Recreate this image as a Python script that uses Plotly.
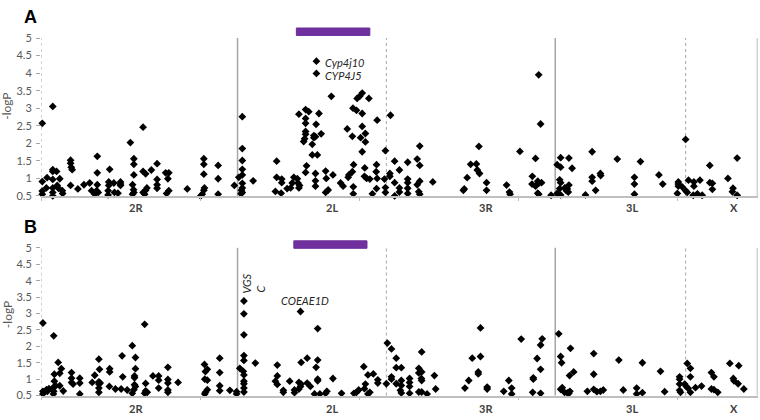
import plotly.graph_objects as go

# ---------------- data (position in Mb along the genome, -logP) ----------------
arm_names = ["2R", "2L", "3R", "3L", "X"]
arm_label_mb = [30.0, 91.4, 139.8, 185.7, 217.8]
solid_bounds_mb = [61.8, 161.7, 225.3]
dashed_bounds_mb = [0.0, 108.6, 202.7]
x_ticks_mb = [0, 50, 100, 150, 200]
y_ticks = [0.5, 1, 1.5, 2, 2.5, 3, 3.5, 4, 4.5, 5]
y_ticktext = ["0.5", "1", "1.5", "2", "2.5", "3", "3.5", "4", "4.5", "5"]
inv_2La_a = [80.3, 103.4]
inv_2La_b = [79.5, 102.5]

a_2R = [
    (0.4, 2.57), (3.7, 3.05), (0.4, 0.91), (0.4, 0.64), (0.4, 0.55), (1.9, 1.02), (1.7, 0.73),
    (3.7, 1.25), (3.7, 1.2), (4.9, 1.2), (3.7, 0.97), (3.7, 0.73), (3.7, 0.6), (3.7, 0.5),
    (5.9, 0.99), (5.1, 0.8), (5.5, 0.72), (6.7, 0.65), (6.8, 0.57),
    (9.3, 1.52), (9.3, 1.43), (9.5, 1.32), (9.8, 1.25), (9.3, 0.8),
    (11.6, 0.7), (13.5, 0.82), (15.3, 0.87), (15.9, 0.65),
    (17.7, 1.63), (17.7, 1.16), (17.7, 0.82), (17.5, 0.65), (18.0, 0.6), (16.9, 0.55),
    (21.6, 1.26), (21.3, 0.9), (21.3, 0.8), (21.1, 0.65), (21.1, 0.53), (22.9, 0.87), (23.1, 0.6), (24.2, 0.58),
    (25.0, 0.9), (25.0, 0.84), (25.0, 0.8),
    (28.1, 2.02), (29.2, 1.56), (29.2, 1.4), (29.2, 1.1), (28.8, 0.82), (29.1, 0.68), (28.8, 0.55), (29.2, 0.6),
    (32.1, 2.46), (32.1, 1.2), (32.9, 1.13), (33.3, 0.73), (32.9, 0.66), (32.1, 0.6), (32.6, 0.55),
    (34.7, 1.24), (36.5, 1.42), (36.5, 0.97), (36.5, 0.82), (36.5, 0.72),
    (39.2, 1.16), (40.2, 1.16), (39.9, 0.99), (40.2, 0.65), (39.5, 0.57),
    (46.0, 0.7),
    (51.2, 1.56), (51.2, 1.4), (51.2, 1.12), (51.4, 0.73), (51.2, 0.66), (50.7, 0.55), (50.2, 0.5),
    (55.7, 1.37), (55.7, 0.99), (55.7, 0.55),
    (60.8, 0.8),
]
a_2L = [
    (63.3, 2.76), (63.3, 1.85), (63.3, 1.51), (63.3, 1.26), (63.3, 1.1), (62.2, 1.03), (63.3, 0.86),
    (63.3, 0.73), (63.0, 0.66), (62.9, 0.56), (63.3, 0.6),
    (66.7, 0.93),
    (74.1, 1.49), (74.1, 1.03), (73.7, 0.63), (75.5, 0.58),
    (75.7, 0.98), (75.7, 0.88), (77.4, 0.71), (78.5, 0.73), (79.0, 0.87), (79.5, 1.03), (80.6, 0.99),
    (80.8, 0.87), (81.3, 0.8), (81.1, 0.73),
    (81.1, 2.83), (83.2, 2.96), (84.2, 2.9), (87.4, 2.85), (83.2, 2.71), (83.2, 2.57), (86.5, 2.54),
    (83.2, 2.34), (83.2, 2.26), (82.9, 2.13), (82.6, 2.05), (85.8, 2.22), (85.8, 2.16), (86.3, 2.19),
    (88.1, 2.27), (85.3, 1.97), (85.3, 1.67), (86.9, 1.67),
    (91.3, 3.34), (86.6, 4.34), (86.6, 3.99),
    (96.3, 2.41), (97.9, 2.2), (101.0, 2.48), (102.0, 2.28), (100.5, 2.16), (102.0, 2.04), (101.0, 1.76),
    (101.0, 3.43), (100.2, 3.34), (99.4, 3.28), (103.1, 3.28), (98.1, 3.0), (99.2, 2.94), (101.0, 2.85),
    (105.7, 2.66),
    (83.5, 1.36), (83.2, 1.17), (89.5, 1.21), (89.7, 1.0), (91.8, 1.1), (86.3, 1.14), (86.3, 0.93), (86.3, 0.78),
    (98.3, 1.39), (97.9, 1.19), (96.8, 1.1), (96.6, 1.03), (101.8, 1.3), (101.7, 1.06), (102.4, 1.0),
    (103.4, 0.98), (105.5, 1.39), (105.4, 1.19), (105.7, 1.0),
    (90.3, 0.67), (89.5, 0.6), (94.2, 0.87), (95.0, 0.78), (98.2, 0.76), (98.2, 0.56), (104.2, 0.56),
    (105.5, 0.71),
]
a_3R = [
    (108.0, 0.98), (108.3, 0.74), (108.3, 1.79), (109.9, 2.8), (109.7, 1.14), (109.7, 1.06), (108.3, 0.6),
    (111.2, 1.49), (111.2, 0.88), (111.2, 0.5), (112.7, 1.24), (112.7, 0.73), (112.7, 0.61),
    (115.3, 1.46), (115.3, 0.98), (115.3, 0.88), (115.3, 0.72), (115.3, 0.57),
    (118.3, 1.55), (119.1, 1.92), (119.1, 1.37), (119.1, 0.92), (118.3, 0.82), (118.8, 0.62), (119.1, 0.55),
    (123.2, 0.9),
    (132.8, 0.66), (133.1, 0.7), (134.0, 1.02), (135.1, 1.4), (136.9, 1.41), (137.7, 1.91), (137.2, 1.24),
    (137.9, 1.14), (140.1, 0.88), (140.1, 0.66), (146.4, 0.81), (147.3, 0.61), (147.5, 0.55),
    (150.6, 1.77), (155.5, 1.57), (156.5, 3.95), (157.1, 2.55), (154.5, 1.06), (154.4, 0.84),
    (155.5, 0.78), (156.2, 0.92), (156.5, 0.86), (156.2, 0.58), (157.4, 0.88), (156.5, 0.55),
    (160.4, 0.52),
]
a_3L = [
    (162.3, 1.39), (163.4, 1.59), (163.4, 1.32), (163.1, 0.96), (163.4, 0.88), (163.1, 0.71), (162.3, 0.57),
    (163.4, 0.53), (164.7, 0.73), (165.2, 0.65), (166.0, 1.58), (166.0, 0.81), (165.8, 0.61), (167.0, 1.29),
    (165.5, 0.7), (171.2, 0.53), (173.3, 1.76), (173.3, 1.03), (173.3, 0.92), (174.4, 0.66), (175.9, 1.14),
    (176.0, 1.08), (181.2, 1.55), (186.6, 1.03), (186.6, 0.84), (186.6, 0.55), (188.5, 1.48),
    (194.3, 1.1), (195.5, 0.84), (200.4, 0.9), (200.4, 0.84), (200.4, 0.78), (200.1, 0.57), (201.6, 0.76),
]
a_X = [
    (202.7, 2.11), (202.7, 0.65), (203.2, 0.6), (203.6, 0.95), (205.3, 0.9), (205.3, 0.78), (205.1, 0.52),
    (206.4, 0.56), (207.2, 0.95), (207.9, 0.52), (210.3, 1.37), (210.3, 0.88), (211.1, 0.86), (211.1, 0.69),
    (216.0, 1.0), (217.6, 0.72), (217.4, 0.62), (218.9, 1.58), (218.9, 0.52),
]

b_2R = [
    (0.6, 2.71), (0.6, 0.63), (0.6, 0.55), (1.7, 0.68), (2.5, 0.71), (2.0, 0.63),
    (4.0, 2.32), (4.2, 1.15), (4.2, 0.94), (4.0, 0.76), (4.0, 0.63), (3.9, 0.55), (4.6, 0.8),
    (5.4, 1.51), (5.9, 1.18), (6.4, 1.32), (5.9, 0.8), (7.0, 0.64),
    (9.6, 1.2), (9.6, 1.03), (9.6, 0.9), (10.1, 0.85), (12.2, 1.03), (12.2, 0.88), (12.2, 0.55),
    (16.1, 0.9), (16.9, 1.12), (18.2, 1.61), (18.4, 1.3), (18.2, 0.92), (18.2, 0.85), (18.2, 0.73),
    (18.2, 0.6), (18.6, 0.88),
    (21.6, 1.32), (21.6, 1.22), (21.5, 0.78), (23.4, 0.7), (25.2, 0.7), (25.5, 1.71), (25.7, 1.07), (27.1, 0.67),
    (28.7, 2.02), (29.7, 1.66), (29.7, 1.32), (29.4, 1.1), (29.4, 1.04), (29.4, 0.83), (29.7, 0.78),
    (29.2, 0.68), (28.7, 0.57),
    (32.6, 2.67), (32.9, 0.87), (32.9, 0.64), (33.4, 0.6), (32.6, 0.57),
    (35.2, 1.1), (37.0, 1.1), (37.0, 0.97), (37.0, 0.73),
    (39.9, 1.36), (39.9, 0.99), (39.9, 0.88), (39.9, 0.67), (39.9, 0.6),
    (43.1, 0.9),
    (51.4, 1.45), (52.3, 1.3), (51.7, 1.23), (51.5, 1.0), (52.3, 0.97), (52.3, 0.68), (51.7, 0.6), (51.5, 0.55),
    (56.2, 1.64), (56.2, 1.2), (56.2, 0.8), (56.2, 0.65), (59.4, 0.66), (61.5, 0.62), (61.5, 0.55),
]
b_2L = [
    (62.5, 1.33), (63.8, 3.38), (63.8, 2.99), (63.8, 2.35), (63.8, 1.72), (63.8, 1.57), (63.6, 1.24),
    (63.8, 1.13), (63.8, 0.94), (63.8, 0.86), (63.8, 0.73), (63.8, 0.61),
    (67.4, 1.49),
    (74.3, 1.43), (74.3, 1.1), (73.7, 0.94), (74.3, 0.84), (76.2, 0.66), (76.2, 0.6), (78.2, 0.94),
    (79.7, 0.67), (79.7, 0.59),
    (81.6, 3.06), (87.0, 2.54), (81.8, 1.51), (83.7, 1.64), (87.0, 1.58), (86.5, 1.36), (87.0, 1.0),
    (87.0, 0.95), (81.1, 0.9), (81.8, 0.85), (81.6, 0.78), (81.1, 0.7), (83.7, 0.88), (84.7, 0.78),
    (86.0, 0.55), (87.7, 0.55), (89.5, 0.57), (89.9, 0.63), (91.8, 1.02), (94.5, 0.57), (98.4, 0.57),
    (99.2, 0.6), (99.9, 0.67), (101.7, 0.71), (102.0, 0.85), (101.5, 1.38), (102.8, 1.13), (104.5, 1.16),
    (105.9, 0.98), (105.9, 0.88), (102.8, 0.55), (103.4, 0.6),
]
b_3R = [
    (108.6, 0.86), (108.9, 2.1), (110.2, 1.92), (110.2, 1.07), (110.2, 1.0), (111.7, 1.64), (111.7, 1.35),
    (111.7, 0.86), (113.3, 1.35), (113.3, 0.96), (113.3, 0.81), (113.0, 0.66), (113.3, 0.58),
    (115.9, 1.02), (115.9, 0.9), (115.9, 0.78), (115.9, 0.57), (118.8, 1.33), (119.7, 1.83), (118.8, 1.19),
    (119.7, 1.22), (119.6, 1.02), (119.7, 0.96), (118.8, 0.61), (119.7, 0.61), (121.4, 0.55),
    (123.7, 1.11), (124.1, 0.7),
    (133.3, 0.73), (134.5, 0.96), (135.6, 1.64), (138.2, 2.56), (138.2, 1.69), (137.5, 1.22), (137.5, 1.16),
    (140.3, 0.76), (140.3, 0.7), (145.5, 0.63), (147.1, 0.96), (148.0, 0.73), (148.0, 0.55),
    (151.0, 2.22), (154.8, 1.04), (154.8, 1.0), (154.6, 0.6), (156.0, 1.63), (157.1, 2.04), (157.6, 2.23),
    (157.1, 1.3), (157.1, 0.57),
]
b_3L = [
    (162.8, 2.38), (163.4, 1.69), (163.7, 1.5), (163.9, 0.74), (163.4, 0.69), (164.6, 0.6), (165.5, 0.58),
    (166.0, 0.57), (166.3, 0.63), (166.5, 1.94), (166.2, 1.11), (167.5, 1.22), (171.8, 0.63),
    (173.8, 1.78), (173.8, 1.15), (173.8, 0.69), (174.8, 0.62), (175.9, 0.63), (176.8, 0.67),
    (181.7, 1.58), (183.1, 0.67), (187.3, 0.73), (187.3, 0.55), (189.1, 1.5), (189.1, 0.59),
    (194.8, 1.24), (196.1, 0.62),
    (200.8, 1.07), (200.8, 1.0), (200.8, 0.85), (200.8, 0.66), (201.1, 0.6),
]
b_X = [
    (202.4, 0.85), (203.2, 1.48), (204.2, 1.33), (204.2, 1.07), (202.9, 0.78), (203.5, 0.72), (204.2, 0.6),
    (205.8, 0.74), (207.7, 0.79), (210.8, 1.2), (211.6, 1.07), (210.8, 0.7), (211.6, 0.68), (212.8, 0.6),
    (216.6, 1.48), (219.4, 1.41), (217.7, 1.02), (217.9, 0.95), (219.2, 0.86), (221.0, 0.7),
]

panel_a = a_2R + a_2L + a_3R + a_3L + a_X
panel_b = b_2R + b_2L + b_3R + b_3L + b_X

# ---------------- figure ----------------
W, H = 760, 420
FONT = "Lato, 'Open Sans', sans-serif"
GRAY_AX = "#BFBFBF"
GRAY_SEP = "#A6A6A6"
TICKCOL = "#595959"

x_dom = [41 / W, 757.5 / W]
ya_dom = [1 - 195 / H, 1 - 32 / H]
yb_dom = [1 - 401 / H, 1 - 248.5 / H]
x_range = [0, 225.3]

fig = go.Figure()
for pts, xa, ya in [(panel_a, "x", "y"), (panel_b, "x2", "y2")]:
    fig.add_trace(go.Scatter(
        x=[p[0] for p in pts], y=[p[1] for p in pts], xaxis=xa, yaxis=ya,
        mode="markers", cliponaxis=False, showlegend=False, hoverinfo="skip",
        marker=dict(symbol="diamond", size=6, color="#000000", line=dict(width=0)),
    ))

xcommon = dict(range=x_range, domain=x_dom, showgrid=False, zeroline=False,
               showline=True, linecolor=GRAY_AX, linewidth=1.5,
               ticks="outside", tickvals=x_ticks_mb, ticklen=3, tickcolor=GRAY_AX,
               showticklabels=False, fixedrange=True)
ycommon = dict(range=[0.5, 5], showgrid=False, zeroline=False, showline=False,
               ticks="outside", tickvals=y_ticks, ticktext=y_ticktext, ticklen=4,
               tickcolor=GRAY_SEP, tickfont=dict(family=FONT, size=11, color=TICKCOL),
               ticklabelstandoff=2, fixedrange=True)

fig.update_layout(
    width=W, height=H, margin=dict(l=0, r=0, t=0, b=0),
    paper_bgcolor="white", plot_bgcolor="white",
    xaxis=dict(anchor="y", **xcommon),
    yaxis=dict(anchor="x", domain=ya_dom, **ycommon),
    xaxis2=dict(anchor="y2", **xcommon),
    yaxis2=dict(anchor="x2", domain=yb_dom, **ycommon),
)

shapes = []
for xr, yr in [("x", "y domain"), ("x2", "y2 domain")]:
    for xv in solid_bounds_mb:
        shapes.append(dict(type="line", xref=xr, yref=yr, x0=xv, x1=xv, y0=0, y1=1,
                           line=dict(color=GRAY_SEP, width=1.5), layer="below"))
    for xv in dashed_bounds_mb:
        shapes.append(dict(type="line", xref=xr, yref=yr, x0=xv, x1=xv, y0=0, y1=1,
                           line=dict(color=GRAY_SEP, width=1, dash="3px,3px"), layer="below"))
# 2La inversion bars
shapes.append(dict(type="rect", xref="x", yref="paper", x0=inv_2La_a[0], x1=inv_2La_a[1],
                   y0=1 - 29.3 / H, y1=1 - 21.7 / H, fillcolor="#7030A0",
                   line=dict(color="#6A2C96", width=1)))
shapes.append(dict(type="rect", xref="x2", yref="paper", x0=inv_2La_b[0], x1=inv_2La_b[1],
                   y0=1 - 249 / H, y1=1 - 241.3 / H, fillcolor="#7030A0",
                   line=dict(color="#6A2C96", width=1)))
fig.update_layout(shapes=shapes)

ann = []
lab_font = dict(family=FONT, size=11, color="#404040")
for name, xm in zip(arm_names, arm_label_mb):
    ann.append(dict(x=xm, y=1 - 207 / H, xref="x", yref="paper", text=f"<b>{name}</b>",
                    xanchor="center", yanchor="middle", showarrow=False, font=lab_font))
    ann.append(dict(x=xm, y=1 - 414 / H, xref="x2", yref="paper", text=f"<b>{name}</b>",
                    xanchor="center", yanchor="middle", showarrow=False, font=lab_font))
for lab, yy in [("A", 10), ("B", 227)]:
    ann.append(dict(x=30 / W, y=1 - yy / H, xref="paper", yref="paper", text=f"<b>{lab}</b>",
                    xanchor="center", yanchor="middle", showarrow=False,
                    font=dict(family="Liberation Sans, Arial", size=18, color="#000000")))
for yy in [103, 318]:
    ann.append(dict(x=7 / W, y=1 - yy / H, xref="paper", yref="paper", text="-logP", textangle=-90,
                    xanchor="center", yanchor="middle", showarrow=False,
                    font=dict(family=FONT, size=12, color=TICKCOL)))
gene_font = dict(family=FONT, size=11, color="#262626")
ann.append(dict(x=88.8, y=1 - 57 / H, xref="x", yref="paper", text="<i>Cyp4j10</i>",
                xanchor="left", yanchor="middle", showarrow=False, font=gene_font))
ann.append(dict(x=88.8, y=1 - 71 / H, xref="x", yref="paper", text="<i>CYP4J5</i>",
                xanchor="left", yanchor="middle", showarrow=False, font=gene_font))
ann.append(dict(x=74.7, y=1 - 303 / H, xref="x2", yref="paper", text="<i>COEAE1D</i>",
                xanchor="left", yanchor="middle", showarrow=False, font=gene_font))
ann.append(dict(x=64.6, y=1 - 285 / H, xref="x2", yref="paper", text="<i>VGS</i>", textangle=-90,
                xanchor="center", yanchor="middle", showarrow=False, font=gene_font))
ann.append(dict(x=69.3, y=1 - 291 / H, xref="x2", yref="paper", text="<i>C</i>", textangle=-90,
                xanchor="center", yanchor="middle", showarrow=False, font=gene_font))
fig.update_layout(annotations=ann)

fig.write_html("out.html", config={"displayModeBar": False},
               post_script="document.body.style.margin='0';document.body.style.overflow='hidden';")
